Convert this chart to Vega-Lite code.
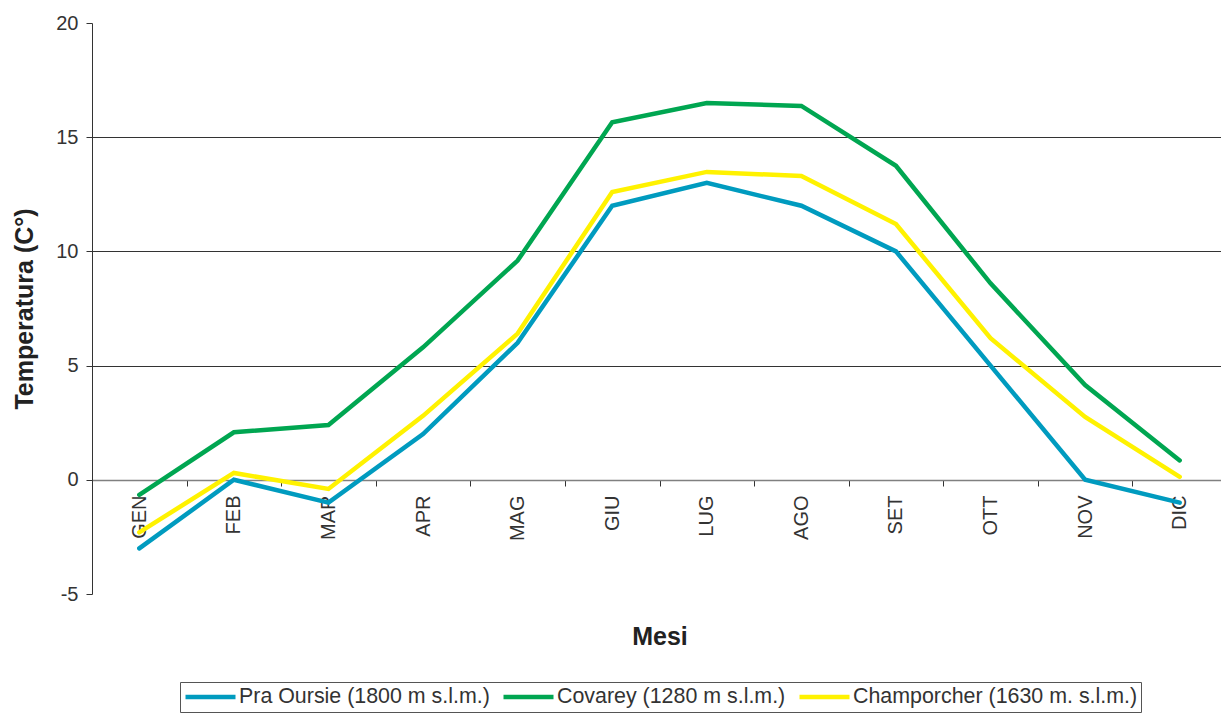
{
  "$schema": "https://vega.github.io/schema/vega-lite/v6.json",
  "autosize": "none",
  "padding": {"left": 92, "top": 23, "right": 0, "bottom": 120},
  "width": 1135,
  "height": 571,
  "background": "white",
  "config": {
    "view": {"stroke": null},
    "font": "Liberation Sans",
    "axis": {"labelFont": "Liberation Sans", "titleFont": "Liberation Sans"},
    "legend": {"labelFont": "Liberation Sans"}
  },
  "data": {
    "values": [
      {"mese": "GEN", "serie": "Pra Oursie (1800 m s.l.m.)", "t": -3},
      {"mese": "FEB", "serie": "Pra Oursie (1800 m s.l.m.)", "t": 0},
      {"mese": "MAR", "serie": "Pra Oursie (1800 m s.l.m.)", "t": -1},
      {"mese": "APR", "serie": "Pra Oursie (1800 m s.l.m.)", "t": 2},
      {"mese": "MAG", "serie": "Pra Oursie (1800 m s.l.m.)", "t": 6},
      {"mese": "GIU", "serie": "Pra Oursie (1800 m s.l.m.)", "t": 12},
      {"mese": "LUG", "serie": "Pra Oursie (1800 m s.l.m.)", "t": 13},
      {"mese": "AGO", "serie": "Pra Oursie (1800 m s.l.m.)", "t": 12},
      {"mese": "SET", "serie": "Pra Oursie (1800 m s.l.m.)", "t": 10},
      {"mese": "OTT", "serie": "Pra Oursie (1800 m s.l.m.)", "t": 5},
      {"mese": "NOV", "serie": "Pra Oursie (1800 m s.l.m.)", "t": 0},
      {"mese": "DIC", "serie": "Pra Oursie (1800 m s.l.m.)", "t": -1},
      {"mese": "GEN", "serie": "Covarey (1280 m s.l.m.)", "t": -0.66},
      {"mese": "FEB", "serie": "Covarey (1280 m s.l.m.)", "t": 2.08},
      {"mese": "MAR", "serie": "Covarey (1280 m s.l.m.)", "t": 2.4},
      {"mese": "APR", "serie": "Covarey (1280 m s.l.m.)", "t": 5.8},
      {"mese": "MAG", "serie": "Covarey (1280 m s.l.m.)", "t": 9.6},
      {"mese": "GIU", "serie": "Covarey (1280 m s.l.m.)", "t": 15.65},
      {"mese": "LUG", "serie": "Covarey (1280 m s.l.m.)", "t": 16.5},
      {"mese": "AGO", "serie": "Covarey (1280 m s.l.m.)", "t": 16.37},
      {"mese": "SET", "serie": "Covarey (1280 m s.l.m.)", "t": 13.75},
      {"mese": "OTT", "serie": "Covarey (1280 m s.l.m.)", "t": 8.6},
      {"mese": "NOV", "serie": "Covarey (1280 m s.l.m.)", "t": 4.15},
      {"mese": "DIC", "serie": "Covarey (1280 m s.l.m.)", "t": 0.85},
      {"mese": "GEN", "serie": "Champorcher (1630 m. s.l.m.)", "t": -2.3},
      {"mese": "FEB", "serie": "Champorcher (1630 m. s.l.m.)", "t": 0.3},
      {"mese": "MAR", "serie": "Champorcher (1630 m. s.l.m.)", "t": -0.4},
      {"mese": "APR", "serie": "Champorcher (1630 m. s.l.m.)", "t": 2.8},
      {"mese": "MAG", "serie": "Champorcher (1630 m. s.l.m.)", "t": 6.4},
      {"mese": "GIU", "serie": "Champorcher (1630 m. s.l.m.)", "t": 12.6},
      {"mese": "LUG", "serie": "Champorcher (1630 m. s.l.m.)", "t": 13.48},
      {"mese": "AGO", "serie": "Champorcher (1630 m. s.l.m.)", "t": 13.3},
      {"mese": "SET", "serie": "Champorcher (1630 m. s.l.m.)", "t": 11.2},
      {"mese": "OTT", "serie": "Champorcher (1630 m. s.l.m.)", "t": 6.2},
      {"mese": "NOV", "serie": "Champorcher (1630 m. s.l.m.)", "t": 2.75},
      {"mese": "DIC", "serie": "Champorcher (1630 m. s.l.m.)", "t": 0.13}
    ]
  },
  "mark": {"type": "line", "strokeWidth": 4.5, "strokeCap": "round", "strokeJoin": "miter"},
  "encoding": {
    "x": {
      "field": "mese",
      "type": "ordinal",
      "bandPosition": 0.5,
      "sort": ["GEN","FEB","MAR","APR","MAG","GIU","LUG","AGO","SET","OTT","NOV","DIC"],
      "scale": {"type": "band", "paddingInner": 0, "paddingOuter": 0},
      "axis": {
        "title": "Mesi",
        "titleFontSize": 25,
        "titleFontWeight": "bold",
        "titleColor": "#222222",
        "titlePadding": 84,
        "labelAngle": -90,
        "labelFontSize": 20,
        "labelColor": "#333333",
        "labelPadding": 9,
        "tickBand": "extent",
        "tickSize": 6,
        "tickColor": "#333333",
        "domainColor": "#808080",
        "domainWidth": 1.5,
        "offset": -114,
        "grid": false
      }
    },
    "y": {
      "field": "t",
      "type": "quantitative",
      "scale": {"domain": [-5, 20], "nice": false, "zero": false},
      "axis": {
        "title": "Temperatura (C°)",
        "titleFontSize": 25,
        "titleFontWeight": "bold",
        "titleColor": "#222222",
        "titlePadding": 18,
        "values": [-5, 0, 5, 10, 15, 20],
        "labelExpr": "replace(datum.label, '\u2212', '-')",
        "labelFontSize": 20,
        "labelColor": "#333333",
        "labelPadding": 8,
        "tickSize": 6,
        "tickColor": "#333333",
        "domainColor": "#333333",
        "grid": true,
        "gridColor": "#333333",
        "gridWidth": 1.2,
        "gridOpacity": {"condition": {"test": "datum.value === 5 || datum.value === 10 || datum.value === 15", "value": 1}, "value": 0}
      }
    },
    "color": {
      "field": "serie",
      "type": "nominal",
      "sort": ["Pra Oursie (1800 m s.l.m.)", "Covarey (1280 m s.l.m.)", "Champorcher (1630 m. s.l.m.)"],
      "scale": {
        "domain": ["Pra Oursie (1800 m s.l.m.)", "Covarey (1280 m s.l.m.)", "Champorcher (1630 m. s.l.m.)"],
        "range": ["#009BBF", "#00A651", "#FFF200"]
      },
      "legend": {
        "title": null,
        "orient": "none",
        "legendX": 88,
        "legendY": 659,
        "direction": "horizontal",
        "symbolType": "stroke",
        "symbolSize": 2500,
        "symbolStrokeWidth": 4.5,
        "clipHeight": 24,
        "labelFontSize": 21.4,
        "labelColor": "#333333",
        "labelOffset": 1,
        "columnPadding": 11,
        "strokeColor": "#555555",
        "padding": 3,
        "labelLimit": 400
      }
    }
  }
}
